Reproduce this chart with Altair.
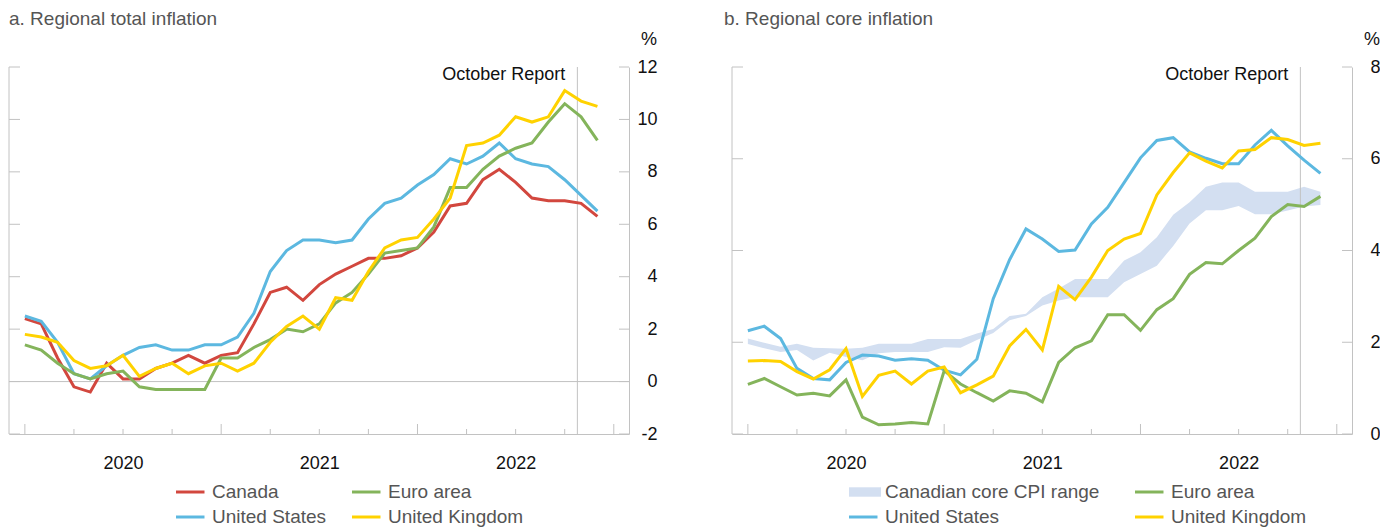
import altair as alt
import pandas as pd

FONT = "Liberation Sans"

# ---------------- data ----------------
months = pd.date_range("2020-01-01", periods=36, freq="MS")
year_labels = ["2020", "2021", "2022"]

# a. Regional total inflation (y/y %)
canada_total = [2.4, 2.2, 0.9, -0.2, -0.4, 0.7, 0.1, 0.1, 0.5, 0.7, 1.0, 0.7,
                1.0, 1.1, 2.2, 3.4, 3.6, 3.1, 3.7, 4.1, 4.4, 4.7, 4.7, 4.8,
                5.1, 5.7, 6.7, 6.8, 7.7, 8.1, 7.6, 7.0, 6.9, 6.9, 6.8, 6.3]
us_total = [2.5, 2.3, 1.5, 0.3, 0.1, 0.6, 1.0, 1.3, 1.4, 1.2, 1.2, 1.4,
            1.4, 1.7, 2.6, 4.2, 5.0, 5.4, 5.4, 5.3, 5.4, 6.2, 6.8, 7.0,
            7.5, 7.9, 8.5, 8.3, 8.6, 9.1, 8.5, 8.3, 8.2, 7.7, 7.1, 6.5]
euro_total = [1.4, 1.2, 0.7, 0.3, 0.1, 0.3, 0.4, -0.2, -0.3, -0.3, -0.3, -0.3,
              0.9, 0.9, 1.3, 1.6, 2.0, 1.9, 2.2, 3.0, 3.4, 4.1, 4.9, 5.0,
              5.1, 5.9, 7.4, 7.4, 8.1, 8.6, 8.9, 9.1, 9.9, 10.6, 10.1, 9.2]
uk_total = [1.8, 1.7, 1.5, 0.8, 0.5, 0.6, 1.0, 0.2, 0.5, 0.7, 0.3, 0.6,
            0.7, 0.4, 0.7, 1.5, 2.1, 2.5, 2.0, 3.2, 3.1, 4.2, 5.1, 5.4,
            5.5, 6.2, 7.0, 9.0, 9.1, 9.4, 10.1, 9.9, 10.1, 11.1, 10.7, 10.5]

# b. Regional core inflation (y/y %)
band_upper = [2.08, 1.99, 1.90, 1.97, 1.88, 1.87, 1.86, 1.88, 1.97, 1.97, 1.97, 2.07,
              2.07, 2.07, 2.19, 2.29, 2.57, 2.62, 2.98, 3.17, 3.38, 3.38, 3.38, 3.78,
              3.96, 4.29, 4.78, 5.05, 5.39, 5.48, 5.48, 5.28, 5.28, 5.28, 5.39, 5.28]
band_lower = [1.96, 1.87, 1.79, 1.83, 1.60, 1.77, 1.68, 1.61, 1.76, 1.79, 1.79, 1.79,
              1.89, 1.88, 2.05, 2.20, 2.48, 2.57, 2.80, 2.91, 2.98, 2.98, 2.98, 3.31,
              3.49, 3.67, 4.10, 4.59, 4.88, 4.88, 4.97, 4.79, 4.79, 4.87, 4.96, 4.99]
euro_core = [1.08, 1.21, 1.03, 0.85, 0.89, 0.83, 1.18, 0.37, 0.20, 0.22, 0.25, 0.22,
             1.38, 1.09, 0.90, 0.72, 0.94, 0.89, 0.70, 1.56, 1.88, 2.03, 2.60, 2.60,
             2.26, 2.71, 2.95, 3.48, 3.74, 3.71, 4.00, 4.27, 4.74, 5.00, 4.96, 5.18]
us_core = [2.25, 2.35, 2.08, 1.43, 1.21, 1.18, 1.56, 1.72, 1.70, 1.61, 1.64, 1.61,
           1.39, 1.29, 1.63, 2.95, 3.80, 4.47, 4.25, 3.98, 4.01, 4.58, 4.94, 5.48,
           6.02, 6.40, 6.46, 6.15, 6.01, 5.89, 5.89, 6.30, 6.62, 6.28, 5.97, 5.68]
uk_core = [1.59, 1.60, 1.58, 1.36, 1.20, 1.40, 1.86, 0.82, 1.28, 1.37, 1.09, 1.37,
           1.46, 0.90, 1.07, 1.26, 1.92, 2.28, 1.83, 3.22, 2.93, 3.42, 4.00, 4.25,
           4.37, 5.21, 5.70, 6.13, 5.95, 5.80, 6.17, 6.20, 6.46, 6.42, 6.29, 6.34]

report_date = "2022-10-25"
report_label = "October Report"

total_names = ["Canada", "Euro area", "United States", "United Kingdom"]
core_names = ["Canadian core CPI range", "Euro area", "United States", "United Kingdom"]

total_ticks = [-2, 0, 2, 4, 6, 8, 10, 12]
core_ticks = [0, 2, 4, 6, 8]

COLORS = {
    "Canada": "#d2473e",
    "Euro area": "#84b45b",
    "United States": "#5cb8e0",
    "United Kingdom": "#ffd200",
    "Canadian core CPI range": "#d3dff1",
}

# ---------------- helpers ----------------
W, H = 620, 367
XDOM = [-0.97, 36.93]
GRAY = "#c2c2c2"
LINE_PATH = "M-1.6,-0.15H1.25V0.15H-1.6Z"
BAND_PATH = "M-1.6,-0.47H1.6V0.47H-1.6Z"


def month_pos(d):
    d = pd.Timestamp(d)
    return (d.year - 2020) * 12 + (d.month - 1) + (d.day - 1) / d.days_in_month


t = [month_pos(d) for d in months]
report_df = pd.DataFrame({"t": [month_pos(report_date)]})
tick_dates = pd.date_range("2020-01-01", "2023-01-01", freq="QS")
xticks = pd.DataFrame({"t": [month_pos(d) for d in tick_dates],
                       "major": [bool(d.month == 1) for d in tick_dates]})
label_pos = [month_pos(f"{y}-07-01") for y in year_labels]
label_expr = " : ".join(
    f"datum.value < {p + 6} ? '{lab}'" for p, lab in zip(label_pos[:-1], year_labels[:-1])
) + f" : '{year_labels[-1]}'"
one = pd.DataFrame({"k": [0]})

XAXIS = alt.Axis(values=label_pos, labelExpr=label_expr, ticks=False, grid=False,
                 domain=True, domainColor=GRAY, labelFontSize=18, labelColor="#111",
                 labelPadding=20, labelFont=FONT, labelFlush=False, labelOverlap=False,
                 title=None)


def yaxis(vals):
    return alt.Axis(orient="right", values=vals, ticks=False, grid=False, domain=True,
                    domainColor=GRAY, labelAlign="right", labelPadding=28, labelFontSize=18,
                    labelColor="#111", labelFont=FONT, labelExpr="'' + datum.value",
                    title=None)


def xenc():
    return alt.X("t:Q", scale=alt.Scale(domain=XDOM, nice=False, zero=False),
                 axis=XAXIS, title=None)


def yenc(field, ydom, yvals):
    return alt.Y(f"{field}:Q", scale=alt.Scale(domain=ydom, nice=False, zero=False),
                 axis=yaxis(yvals), title=None)


def long_df(names, values):
    rows = []
    for n, vals in zip(names, values):
        for ti, v in zip(t, vals):
            rows.append({"t": ti, "v": v, "series": n})
    return pd.DataFrame(rows)


def panel(title, title_dx, lines, names, ydom, yvals, legend_x, col_pad,
          band=None, zero=False):
    Y = lambda f: yenc(f, ydom, yvals)
    layers = []
    if band is not None:
        layers.append(alt.Chart(band).mark_area(color=COLORS[names[0]], opacity=1)
                      .encode(x=xenc(), y=Y("lo"), y2="hi:Q"))
    if zero:
        layers.append(alt.Chart(pd.DataFrame({"v": [0]})).mark_rule(color=GRAY, strokeWidth=1)
                      .encode(y=Y("v"), x=alt.value(0), x2=alt.value(W)))
    ytd = pd.DataFrame({"v": yvals})
    layers += [
        alt.Chart(one).mark_rule(color=GRAY).encode(x=alt.value(0), y=alt.value(0), y2=alt.value(H)),
        alt.Chart(ytd).mark_rule(color=GRAY).encode(y=Y("v"), x=alt.value(0), x2=alt.value(11)),
        alt.Chart(ytd).mark_rule(color=GRAY).encode(y=Y("v"), x=alt.value(W - 10), x2=alt.value(W)),
        alt.Chart(xticks).transform_filter("datum.major").mark_rule(color=GRAY)
        .encode(x=xenc(), y=alt.value(H), y2=alt.value(H - 10)),
        alt.Chart(xticks).transform_filter("!datum.major").mark_rule(color=GRAY)
        .encode(x=xenc(), y=alt.value(H), y2=alt.value(H - 5)),
        alt.Chart(report_df).mark_rule(color=GRAY).encode(x=xenc(), y=alt.value(0), y2=alt.value(H)),
    ]
    for n in lines["series"].unique():
        layers.append(
            alt.Chart(lines).transform_filter(alt.datum.series == n)
            .mark_line(strokeWidth=3, color=COLORS[n])
            .encode(x=xenc(), y=Y("v"))
        )
    layers += [
        alt.Chart(report_df).mark_text(align="right", baseline="middle", dx=-12, fontSize=18,
                                       color="#111", font=FONT, text=report_label)
        .encode(x=xenc(), y=alt.value(8)),
        alt.Chart(one).mark_text(align="left", baseline="middle", fontSize=19, color="#555",
                                 font=FONT, text=title)
        .encode(x=alt.value(title_dx), y=alt.value(-48)),
        alt.Chart(one).mark_text(align="right", baseline="middle", fontSize=18, color="#111",
                                 font=FONT, text="%")
        .encode(x=alt.value(W + 28), y=alt.value(-27)),
    ]
    legend = alt.Legend(title=None, orient="none", legendX=legend_x, legendY=415, columns=2,
                        direction="horizontal",
                        columnPadding=col_pad, rowPadding=5, labelFontSize=19,
                        labelColor="#555", labelFont=FONT, labelOffset=10, symbolSize=400,
                        symbolStrokeWidth=0, labelLimit=400, padding=0)
    paths = [BAND_PATH if (band is not None and i == 0) else LINE_PATH for i in range(len(names))]
    layers.append(
        alt.Chart(pd.DataFrame({"series": names})).transform_filter("false")
        .mark_point(filled=True, opacity=1, size=400)
        .encode(x=alt.value(0), y=alt.value(0),
                fill=alt.Fill("series:N",
                              scale=alt.Scale(domain=names, range=[COLORS[n] for n in names]),
                              legend=legend),
                shape=alt.Shape("series:N", scale=alt.Scale(domain=names, range=paths),
                                legend=legend))
    )
    return alt.layer(*layers).properties(width=W, height=H)


lines_a = long_df(["Canada", "United States", "Euro area", "United Kingdom"],
                  [canada_total, us_total, euro_total, uk_total])
lines_b = long_df(["United States", "Euro area", "United Kingdom"],
                  [us_core, euro_core, uk_core])
band_b = pd.DataFrame({"t": t, "lo": band_lower, "hi": band_upper})

pa = panel("a. Regional total inflation", 0, lines_a, total_names, [-2, 12], total_ticks,
           173, 25, zero=True)
pb = panel("b. Regional core inflation", -8, lines_b, core_names, [0, 8], core_ticks,
           123, 35, band=band_b)

chart = (
    alt.hconcat(pa, pb, spacing=103, bounds="flush")
    .resolve_scale(x="independent", y="independent", fill="independent", shape="independent")
    .properties(padding={"top": 2, "left": 0, "right": 0, "bottom": 50})
    .configure(font=FONT)
    .configure_view(stroke=None)
)

chart.save("out.html", embed_options={"renderer": "svg", "actions": False})

with open("out.html", encoding="utf-8") as f:
    html = f.read()
html = html.replace("</head>", "<style>html,body{overflow:hidden}</style></head>", 1)
with open("out.html", "w", encoding="utf-8") as f:
    f.write(html)
